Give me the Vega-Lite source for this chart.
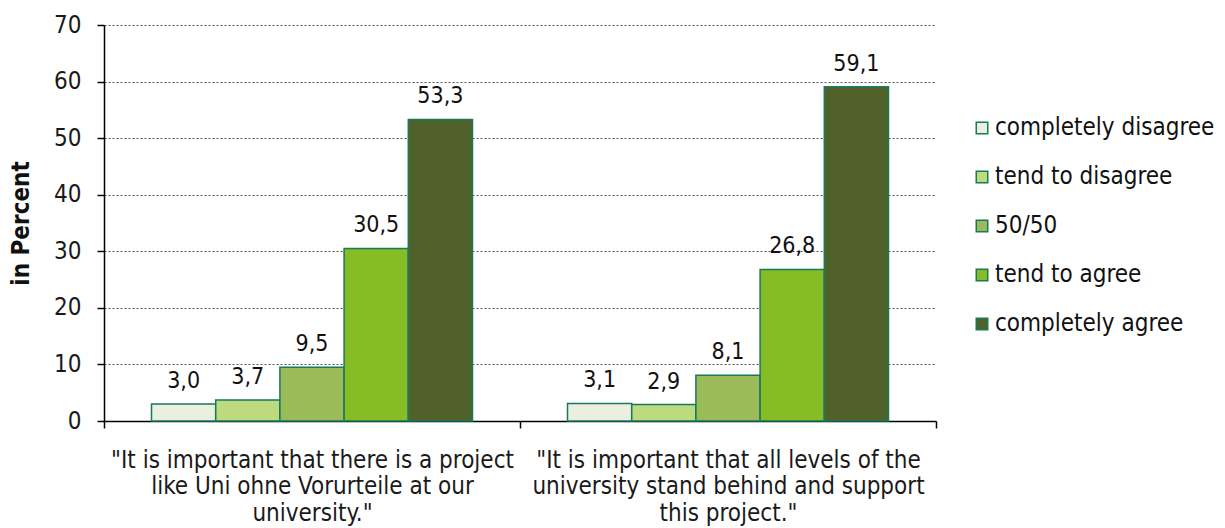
{
  "$schema": "https://vega.github.io/schema/vega-lite/v6.json",
  "width": 832,
  "height": 396,
  "autosize": "none",
  "padding": {"left": 104, "top": 25, "right": 289, "bottom": 107},
  "background": "white",
  "config": {
    "font": "DejaVu Sans Condensed",
    "view": {"stroke": null},
    "locale": {"number": {"decimal": ",", "thousands": ".", "grouping": [3], "currency": ["", " €"]}}
  },
  "data": {
    "values": [
      {"statement": "Project at our university", "answer": "completely disagree", "percent": 3.0},
      {"statement": "Project at our university", "answer": "tend to disagree", "percent": 3.7},
      {"statement": "Project at our university", "answer": "50/50", "percent": 9.5},
      {"statement": "Project at our university", "answer": "tend to agree", "percent": 30.5},
      {"statement": "Project at our university", "answer": "completely agree", "percent": 53.3},
      {"statement": "All levels support project", "answer": "completely disagree", "percent": 3.1},
      {"statement": "All levels support project", "answer": "tend to disagree", "percent": 2.9},
      {"statement": "All levels support project", "answer": "50/50", "percent": 8.1},
      {"statement": "All levels support project", "answer": "tend to agree", "percent": 26.8},
      {"statement": "All levels support project", "answer": "completely agree", "percent": 59.1}
    ]
  },
  "encoding": {
    "x": {
      "field": "statement",
      "type": "nominal",
      "sort": ["Project at our university", "All levels support project"],
      "scale": {"paddingInner": 0, "paddingOuter": 0},
      "axis": {
        "title": null,
        "labelAngle": 0,
        "tickBand": "extent",
        "domainColor": "black",
        "domainWidth": 1.5,
        "tickColor": "black",
        "tickWidth": 1.5,
        "tickSize": 7,
        "labelFontSize": 24,
        "labelColor": "#1a1a1a",
        "labelLineHeight": 26.5,
        "labelPadding": 20,
        "labelBaseline": "top",
        "labelLimit": 1000,
        "labelOverlap": false,
        "labelExpr": "datum.value == 'Project at our university' ? ['\"It is important that there is a project', 'like Uni ohne Vorurteile at our', 'university.\"'] : (datum.value == 'All levels support project' ? ['\"It is important that all levels of the', 'university stand behind and support', 'this project.\"'] : '')"
      }
    },
    "xOffset": {
      "field": "answer",
      "type": "nominal",
      "sort": ["completely disagree", "tend to disagree", "50/50", "tend to agree", "completely agree"],
      "scale": {"paddingInner": 0, "paddingOuter": 0.74}
    },
    "y": {
      "field": "percent",
      "type": "quantitative",
      "scale": {"domain": [0, 70]},
      "axis": {
        "title": "in Percent",
        "titleFontSize": 24,
        "titleFontWeight": "bold",
        "titleColor": "#111111",
        "titlePadding": 20,
        "values": [0, 10, 20, 30, 40, 50, 60, 70],
        "labelFontSize": 24,
        "labelColor": "#1a1a1a",
        "labelPadding": 16,
        "tickSize": 7,
        "tickColor": "black",
        "tickWidth": 1.5,
        "domainColor": "black",
        "domainWidth": 1.5,
        "grid": true,
        "gridColor": "#555555",
        "gridDash": [2, 2],
        "gridWidth": 1
      }
    }
  },
  "layer": [
    {
      "mark": {"type": "bar", "stroke": "#177A5C", "strokeWidth": 1.5},
      "encoding": {
        "color": {
          "field": "answer",
          "type": "nominal",
          "sort": ["completely disagree", "tend to disagree", "50/50", "tend to agree", "completely agree"],
          "scale": {
            "domain": ["completely disagree", "tend to disagree", "50/50", "tend to agree", "completely agree"],
            "range": ["#EBEFDF", "#BEDA7E", "#9BBB59", "#86BC25", "#50622A"]
          },
          "legend": {
            "title": null,
            "orient": "none",
            "legendX": 866,
            "legendY": 91,
            "symbolType": "square",
            "symbolSize": 132,
            "symbolStrokeColor": "#177A5C",
            "symbolStrokeWidth": 1.5,
            "symbolOpacity": 1,
            "labelFontSize": 24,
            "labelColor": "#111111",
            "labelOffset": 1,
            "labelLimit": 1000,
            "rowPadding": 25
          }
        }
      }
    },
    {
      "mark": {"type": "text", "baseline": "alphabetic", "dy": -16, "fontSize": 23, "color": "#111111"},
      "encoding": {
        "text": {"field": "percent", "type": "quantitative", "format": ".1f"}
      }
    }
  ]
}
